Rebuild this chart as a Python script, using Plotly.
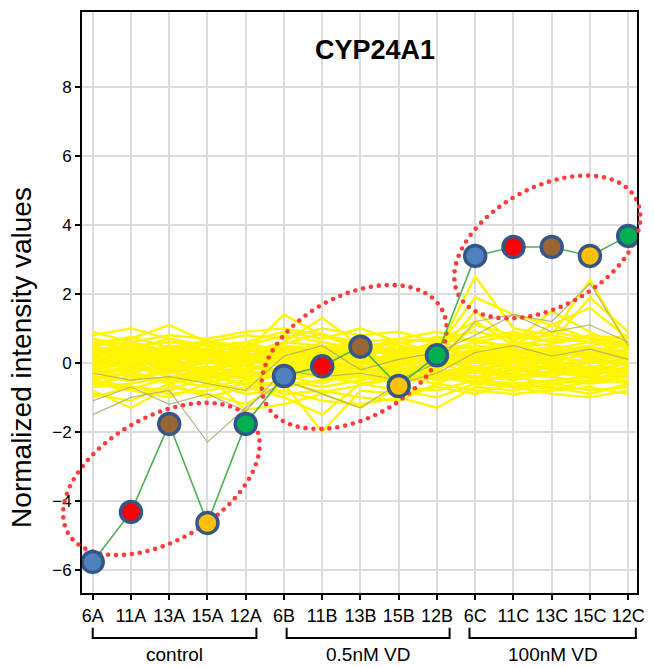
import numpy as np
import plotly.graph_objects as go

# ---------------- data ----------------
samples = ["6A", "11A", "13A", "15A", "12A",
           "6B", "11B", "13B", "15B", "12B",
           "6C", "11C", "13C", "15C", "12C"]
cyp24a1 = [-5.77, -4.32, -1.77, -4.64, -1.77,
           -0.38, -0.10, 0.47, -0.67, 0.22,
           3.10, 3.36, 3.36, 3.10, 3.68]
point_colors = ["#4f81bd", "#ff0000", "#996633", "#ffc000", "#00b050"] * 3

groups = ["control", "0.5nM VD", "100nM VD"]
group_spans = [(0.0, 4.28), (5.07, 9.33), (9.85, 14.2)]

y_ticks = [-6, -4, -2, 0, 2, 4, 6, 8]

# background genes (yellow profiles)
bg_yellow = [
    [0.2, 0.4, 0.1, 0.3, -0.1, 0.5, 0.3, 0.2, 0.1, 0.3, 2.5, 1.0, 0.8, 2.4, 0.5],
    [0.0, 0.2, 0.3, 0.0, 0.2, 0.3, 0.5, 0.1, 0.2, 0.4, 1.9, 1.4, 1.1, 1.6, 0.7],
    [-0.2, 0.1, -0.1, 0.2, 0.0, 0.2, 0.1, 0.3, 0.0, 0.2, 1.5, 0.6, 1.5, 0.9, 0.4],
    [0.3, 0.5, 0.2, 0.1, 0.3, 1.4, 0.8, 0.4, 0.2, 0.1, 1.1, 0.8, 0.6, 1.9, 0.9],
    [0.1, -0.1, 0.4, 0.2, 0.1, 0.6, 1.3, 0.5, 0.3, 0.6, 1.2, 0.5, 1.1, 0.7, 0.2],
    [0.8, 1.0, 0.7, 0.5, 0.6, 0.9, 0.7, 1.0, 0.6, 0.7, 0.9, 0.7, 0.8, 0.6, 0.8],
    [0.6, 0.7, 1.1, 0.6, 0.8, 0.7, 1.0, 0.8, 0.9, 0.6, 0.7, 0.9, 0.6, 0.8, 0.7],
    [-0.8, -1.3, -0.7, -0.9, -1.2, -0.6, -2.0, -0.8, -0.9, -0.7, -0.9, -0.6, -0.7, -0.9, -0.6],
    [-0.6, -0.8, -1.0, -0.6, -0.9, -0.8, -1.1, -1.2, -1.0, -1.3, -0.7, -0.8, -0.6, -0.8, -0.7],
    [-0.9, -1.1, -0.6, -1.0, -0.7, -1.0, -1.5, -0.6, -0.8, -1.0, -0.6, -0.7, -0.9, -1.0, -0.8],
    [-0.5, -0.7, -0.8, -0.4, -1.36, -1.2, -0.9, -1.3, -0.7, -0.8, -0.5, -0.6, -0.5, -0.6, -0.4],
    [0.3, 0.2, 0.4, 0.1, 0.2, 0.0, 0.3, 0.1, -0.1, 0.2, 0.1, 0.3, 0.2, 0.0, 0.3],
    [-0.2, 0.0, -0.3, -0.1, -0.4, -0.2, -0.1, -0.3, 0.0, -0.2, -0.3, -0.1, -0.2, -0.4, -0.1],
    [0.5, 0.6, 0.3, 0.4, 0.2, 0.5, 0.4, 0.6, 0.3, 0.4, 0.5, 0.3, 0.4, 0.6, 0.5],
    [-0.4, -0.5, -0.2, -0.6, -0.3, -0.4, -0.6, -0.2, -0.5, -0.3, -0.4, -0.5, -0.3, -0.2, -0.4],
    [0.1, -0.2, 0.2, 0.3, 0.0, 0.1, -0.2, 0.2, 0.1, -0.1, 0.0, 0.2, -0.1, 0.1, 0.0],
    [0.4, 0.3, 0.5, 0.2, 0.4, 0.2, 0.6, 0.3, 0.5, 0.1, 0.3, 0.4, 0.2, 0.3, 0.4],
    [-0.1, 0.1, -0.2, 0.0, -0.1, 0.3, 0.0, -0.1, -0.3, 0.1, -0.2, 0.0, 0.1, -0.2, 0.2],
    [0.2, 0.4, 0.0, -0.2, 0.1, 0.2, 0.1, 0.4, 0.2, 0.0, 0.2, -0.1, 0.3, 0.2, -0.1],
    [-0.3, -0.1, -0.4, -0.2, -0.2, -0.5, -0.3, -0.4, -0.2, -0.5, -0.1, -0.3, -0.4, -0.1, -0.3],
    [0.0, 0.3, 0.1, 0.2, 0.3, -0.1, 0.2, 0.0, 0.3, 0.1, 0.4, 0.1, 0.0, 0.3, 0.1],
    [0.6, 0.4, 0.7, 0.3, 0.5, 0.4, 0.2, 0.5, 0.6, 0.3, 0.6, 0.5, 0.3, 0.5, 0.6],
    [-0.5, -0.3, -0.6, -0.4, -0.6, -0.3, -0.4, -0.6, -0.4, -0.6, -0.2, -0.4, -0.6, -0.5, -0.2],
    [0.2, 0.0, 0.2, 0.4, -0.1, 0.4, 0.1, 0.2, 0.4, 0.3, 0.0, 0.2, 0.4, 0.1, 0.2],
    [-0.1, -0.3, 0.0, -0.2, 0.2, -0.1, -0.4, 0.0, -0.2, -0.1, 0.1, -0.2, -0.1, -0.3, 0.0],
    [0.4, 0.5, 0.6, 0.5, 0.3, 0.6, 0.5, 0.3, 0.4, 0.5, 0.2, 0.6, 0.5, 0.4, 0.3],
    [-0.6, -0.4, -0.5, -0.7, -0.5, -0.7, -0.5, -0.4, -0.6, -0.4, -0.6, -0.3, -0.4, -0.6, -0.5],
    [0.1, 0.2, -0.1, 0.1, 0.4, 0.1, 0.0, -0.2, 0.1, 0.2, 0.3, 0.0, -0.2, 0.0, 0.1],
    [-0.3, -0.2, -0.1, -0.4, -0.2, 0.0, -0.2, -0.3, -0.1, -0.4, -0.2, -0.4, -0.3, -0.1, -0.2],
    [0.3, 0.1, 0.3, 0.0, 0.1, 0.3, 0.2, 0.0, 0.2, 0.4, 0.2, 0.1, 0.3, 0.2, 0.4],
    [0.0, -0.1, 0.1, -0.3, -0.3, -0.2, 0.1, -0.1, -0.4, 0.0, -0.1, 0.1, 0.0, -0.3, -0.2],
    [0.7, 0.5, 0.4, 0.6, 0.5, 0.8, 0.6, 0.4, 0.7, 0.6, 0.4, 0.5, 0.7, 0.6, 0.5],
    [-0.7, -0.6, -0.4, -0.5, -0.8, -0.5, -0.7, -0.5, -0.3, -0.5, -0.4, -0.7, -0.5, -0.4, -0.6],
    [0.2, 0.3, 0.2, 0.1, -0.2, 0.1, 0.4, 0.3, 0.0, -0.2, 0.3, 0.2, 0.1, 0.4, 0.2],
    [-0.2, -0.4, -0.3, 0.1, -0.1, -0.3, -0.2, 0.1, -0.3, -0.2, -0.4, -0.2, -0.3, -0.1, -0.4],
    [0.5, 0.2, 0.5, 0.4, 0.6, 0.3, 0.4, 0.2, 0.5, 0.3, 0.5, 0.4, 0.2, 0.3, 0.6],
    [0.35, 0.15, 0.45, 0.25, 0.05, 0.35, 0.15, 0.45, 0.25, 0.15, 0.35, 0.25, 0.45, 0.15, 0.25],
    [-0.35, -0.15, -0.25, -0.45, -0.05, -0.25, -0.35, -0.15, -0.45, -0.25, -0.15, -0.35, -0.25, -0.45, -0.35],
    [0.05, 0.25, -0.15, 0.15, -0.25, 0.05, 0.25, -0.05, 0.15, -0.15, 0.05, -0.15, 0.15, 0.05, -0.05],
    [0.55, 0.75, 0.45, 0.65, 0.35, 0.55, 0.85, 0.45, 0.55, 0.75, 0.65, 0.45, 0.55, 0.75, 0.45],
    [-0.55, -0.75, -0.45, -0.35, -0.65, -0.55, -0.85, -0.65, -0.45, -0.35, -0.55, -0.65, -0.75, -0.55, -0.35],
    [0.15, -0.05, 0.05, 0.35, 0.25, -0.15, 0.05, 0.15, -0.05, 0.25, 0.15, 0.35, 0.05, -0.15, 0.15],
    [-0.05, 0.15, -0.25, -0.15, 0.05, 0.15, -0.25, 0.05, 0.25, -0.05, -0.25, 0.05, -0.15, 0.15, -0.05],
    [0.45, 0.35, 0.25, 0.55, 0.45, 0.25, 0.35, 0.55, 0.35, 0.45, 0.25, 0.35, 0.45, 0.25, 0.55],
    [-0.45, -0.25, -0.55, -0.25, -0.45, -0.15, -0.45, -0.35, -0.55, -0.25, -0.45, -0.25, -0.15, -0.35, -0.55],
    [0.25, 0.55, 0.15, 0.05, 0.35, 0.45, 0.25, -0.05, 0.35, 0.55, 0.15, 0.05, 0.25, 0.45, 0.35],
    [-0.25, -0.55, -0.05, -0.35, -0.45, -0.35, -0.05, -0.45, -0.15, -0.35, -0.25, -0.45, -0.05, -0.25, -0.15],
    [0.9, 0.6, 0.8, 0.7, 0.9, 1.0, 0.8, 0.6, 0.7, 0.9, 0.6, 0.8, 0.9, 0.7, 0.6],
    [-1.0, -0.7, -0.9, -0.8, -0.6, -0.9, -0.8, -1.0, -1.1, -0.6, -0.8, -0.9, -0.8, -0.7, -0.9],
    [0.0, 0.45, 0.2, -0.35, 0.15, -0.3, 0.35, 0.25, -0.25, 0.3, -0.15, 0.25, 0.35, -0.25, 0.05],
]
bg_olive = [
    [-1.5, -1.0, -0.8, -2.3, -1.3, -0.5, -0.9, -1.3, -0.6, -0.3, 0.3, 0.5, 0.2, 0.4, 0.1],
    [-1.1, -0.7, -1.2, -0.9, -1.4, -0.2, -0.4, -0.3, -0.5, 0.0, 1.2, 1.4, 1.2, 2.3, 0.5],
    [-0.3, -0.5, -0.4, -0.6, -0.8, 0.2, 0.5, -0.2, 0.1, 0.3, 0.8, 1.4, 0.9, 1.1, 0.6],
]

# ---------------- layout geometry ----------------
W_FIG, H_FIG = 654, 667
M_L, M_R, M_T, M_B = 82, 9, 12, 74
PW, PH = W_FIG - M_L - M_R, H_FIG - M_T - M_B
X_RANGE = [-0.28, 14.23]
Y_RANGE = [-6.67, 10.17]

FONT = "Liberation Sans, Arial, sans-serif"

def px_to_data(px, py):
    x = X_RANGE[0] + (px - M_L) / PW * (X_RANGE[1] - X_RANGE[0])
    y = Y_RANGE[1] - (py - M_T) / PH * (Y_RANGE[1] - Y_RANGE[0])
    return x, y

def px_to_paper(px, py):
    return (px - M_L) / PW, (M_T + PH - py) / PH

# highlight ellipses (pixel centre, semi-axes, tilt), drawn as red dots
ellipses = [
    (162.5, 479, 109, 62, 29.5),
    (358, 357, 101, 61.5, 27.8),
    (554, 247, 102, 60, 28.0),
]
DOT_STEP = 8.0   # px between dots
DOT_SIZE = 4.6   # px
DOT_COLOR = "#ff3c3c"

fig = go.Figure()
xs = list(range(len(samples)))

for prof in bg_yellow:
    fig.add_trace(go.Scatter(x=xs, y=prof, mode="lines",
                             line=dict(color="rgb(255,245,0)", width=2.4),
                             hoverinfo="skip", showlegend=False))
for prof in bg_olive:
    fig.add_trace(go.Scatter(x=xs, y=prof, mode="lines",
                             line=dict(color="rgba(170,170,110,0.85)", width=1.2),
                             hoverinfo="skip", showlegend=False))

shapes = []
annotations = []

t = np.linspace(0, 2 * np.pi, 2000)
for cx, cy, a, b, th in ellipses:
    r = np.radians(th)
    dx = a * np.cos(t) * np.cos(r) - b * np.sin(t) * np.sin(r)
    dy = a * np.cos(t) * np.sin(r) + b * np.sin(t) * np.cos(r)
    px, py = cx + dx, cy - dy
    seg = np.hypot(np.diff(px), np.diff(py))
    s = np.concatenate([[0], np.cumsum(seg)])
    n = int(s[-1] // DOT_STEP)
    targets = np.linspace(0, s[-1], n, endpoint=False)
    dpx = np.interp(targets, s, px)
    dpy = np.interp(targets, s, py)
    ex, ey = px_to_data(dpx, dpy)
    # dots inside the plotting area: a trace (sits under the highlighted points)
    fig.add_trace(go.Scatter(x=ex, y=ey, mode="markers", cliponaxis=False,
                             marker=dict(size=DOT_SIZE, color=DOT_COLOR,
                                         line=dict(width=0)),
                             hoverinfo="skip", showlegend=False))
    # dots spilling outside the plotting area: paper shapes
    rr = DOT_SIZE / 2
    for qx, qy in zip(dpx, dpy):
        if qx < M_L or qx > M_L + PW or qy < M_T or qy > M_T + PH:
            u0, v0 = px_to_paper(qx - rr, qy + rr)
            u1, v1 = px_to_paper(qx + rr, qy - rr)
            shapes.append(dict(type="circle", xref="paper", yref="paper",
                               x0=u0, y0=v0, x1=u1, y1=v1, layer="above",
                               fillcolor=DOT_COLOR, line=dict(width=0)))

fig.add_trace(go.Scatter(
    x=xs, y=cyp24a1, mode="lines+markers",
    line=dict(color="#4caf50", width=1.6),
    marker=dict(size=21, color=point_colors,
                line=dict(color="#34568b", width=3.5)),
    showlegend=False))

for (x0, x1), name in zip(group_spans, groups):
    shapes.append(dict(type="path", xref="x", yref="paper",
                       path=f"M {x0},-0.060 L {x0},-0.0775 L {x1},-0.0775 L {x1},-0.060",
                       line=dict(color="black", width=2)))
    annotations.append(dict(x=(x0 + x1) / 2, y=-0.1067, xref="x", yref="paper",
                            text=name, showarrow=False, xanchor="center", yanchor="middle",
                            font=dict(size=19, color="black", family=FONT)))

annotations.append(dict(x=(379 - M_L) / PW, y=(M_T + PH - 50) / PH, xref="paper", yref="paper",
                        text="<b>CYP24A1</b>", showarrow=False, xanchor="center", yanchor="middle",
                        font=dict(size=27, color="black", family=FONT)))
annotations.append(dict(x=(20 - M_L) / PW, y=(M_T + PH - 357) / PH, xref="paper", yref="paper",
                        text="Normalized intensity values", textangle=-90, showarrow=False,
                        xanchor="center", yanchor="middle",
                        font=dict(size=28, color="black", family=FONT)))

fig.update_layout(
    width=W_FIG, height=H_FIG,
    margin=dict(l=M_L, r=M_R, t=M_T, b=M_B),
    plot_bgcolor="white", paper_bgcolor="white",
    font=dict(family=FONT, color="black"),
    shapes=shapes, annotations=annotations,
    xaxis=dict(range=X_RANGE, tickmode="array", tickvals=xs, ticktext=samples,
               showgrid=True, gridcolor="#dcdcdc", gridwidth=1.5, zeroline=False,
               ticks="outside", ticklen=5, tickwidth=1.5, tickcolor="black",
               showline=True, linecolor="black", linewidth=2, mirror=True,
               tickfont=dict(size=18, color="black")),
    yaxis=dict(range=Y_RANGE, tickmode="array", tickvals=y_ticks,
               showgrid=True, gridcolor="#dcdcdc", gridwidth=1.5, zeroline=False,
               ticks="outside", ticklen=5, tickwidth=1.5, tickcolor="black",
               showline=True, linecolor="black", linewidth=2, mirror=True,
               tickfont=dict(size=17, color="black")),
)

fig.write_html("out.html", config={"displayModeBar": False},
               post_script="document.body.style.margin='0';document.body.style.padding='0';")
